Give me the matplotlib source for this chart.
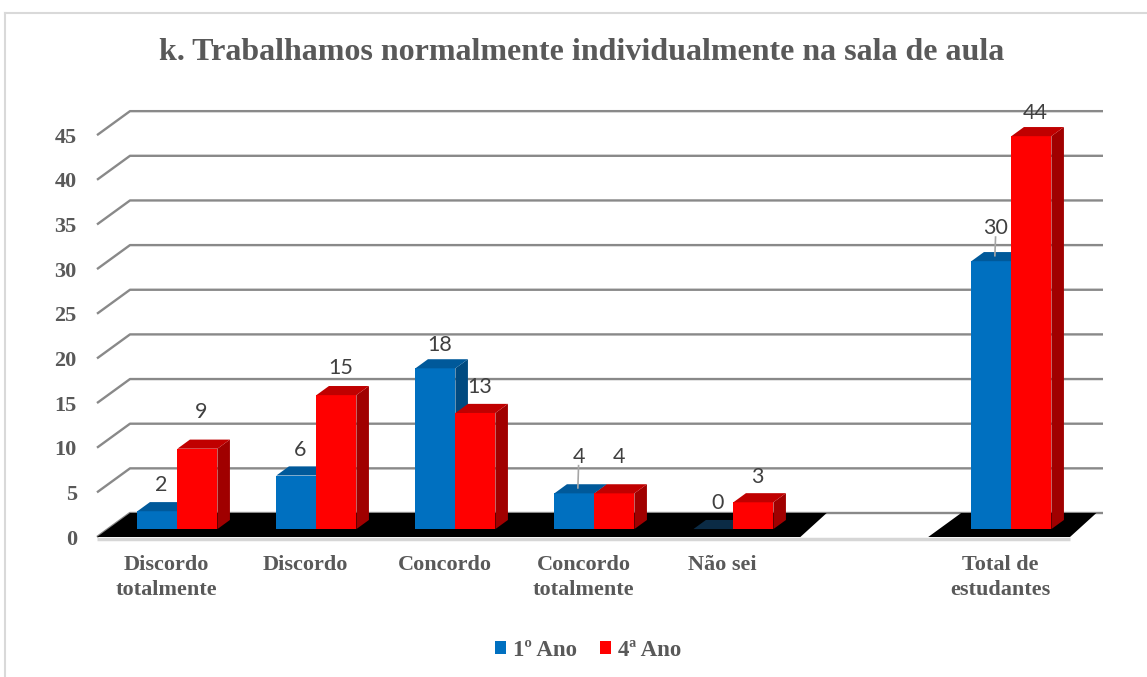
import matplotlib
matplotlib.use("Agg")
import matplotlib.pyplot as plt
from matplotlib.patches import Polygon, Patch
from matplotlib.lines import Line2D
import numpy as np

# ---------------- data ----------------
title = "k. Trabalhamos normalmente individualmente na sala de aula"
categories = ["Discordo\ntotalmente", "Discordo", "Concordo", "Concordo\ntotalmente",
              "Não sei", "", "Total de\nestudantes"]
series_names = ["1º Ano", "4ª Ano"]
ano1 = [2, 6, 18, 4, 0, None, 30]
ano4 = [9, 15, 13, 4, 3, None, 44]
yticks = [0, 5, 10, 15, 20, 25, 30, 35, 40, 45]

# label offsets above bar front-top (value units) -- style/positioning only
lab_off1 = [2.9, 2.9, 2.6, 4.1, 2.9, None, 3.7]
lab_off4 = [4.1, 3.0, 2.9, 4.1, 2.8, None, 2.6]
leader1 = [False, False, False, True, False, False, True]
leader4 = [False] * 7

# ---------------- style ----------------
W, H, DPI = 1147, 677, 100
fig = plt.figure(figsize=(W / DPI, H / DPI), dpi=DPI)
fig.patch.set_facecolor("white")

# pixel mapping of data space
PX0, PXU = 97.0, 139.0      # pixel x of x=-0.5 ; px per category
PY0, PYU = 537.0, 8.93      # pixel y of value 0 (front) ; px per unit
xlo, xhi = -0.75, 6.9
ylo, yhi = -2.0, 48.5
def px(x): return PX0 + (x + 0.5) * PXU
def py(v): return PY0 - v * PYU
ax = fig.add_axes([px(xlo) / W, (H - py(ylo)) / H,
                   (px(xhi) - px(xlo)) / W, (py(ylo) - py(yhi)) / H])
ax.set_xlim(xlo, xhi)
ax.set_ylim(ylo, yhi)
ax.axis("off")

DX = 33.0 / PXU          # full depth offset in x units
DY = 24.0 / PYU          # full depth offset in y units
f0, f1 = 0.33, 0.71      # bar depth span
bx, by = f0 * DX, f0 * DY
ddx, ddy = (f1 - f0) * DX, (f1 - f0) * DY
bw = 40.0 / PXU

grid_c = "#898989"
text_c = "#595959"
serif = "Liberation Serif"
lab_font = "Lato"

n = len(categories)
xleft, xright = -0.5, n - 0.5

# gridlines (side wall diagonal + back wall)
for t in yticks:
    ax.plot([xleft, xleft + DX, xright + DX], [t, t + DY, t + DY],
            color=grid_c, lw=1.7, zorder=1, solid_capstyle="butt", clip_on=False)
    ax.text(xleft - 0.145, t - 0.3, str(t), ha="right", va="center",
            fontsize=16, fontweight="bold", family=serif, color=text_c)

# floor front strip
ax.plot([xleft, xright], [-0.2, -0.2], color="#d6d6d6", lw=2.5, zorder=2,
        solid_capstyle="butt", clip_on=False)
# floor (skipping the empty category)
present = [i for i in range(n) if ano1[i] is not None]
segs = []
start = present[0]
prev = start
for i in present[1:]:
    if i != prev + 1:
        segs.append((start, prev))
        start = i
    prev = i
segs.append((start, prev))
for a, b in segs:
    xa = a - 0.5 if a == 0 else a - 0.52
    xb = b + 0.5 if b == n - 1 else b + 0.56
    ax.add_patch(Polygon([(xa, 0), (xb, 0), (xb + DX * 0.8, DY), (xa + DX, DY)],
                         closed=True, facecolor="black", edgecolor="none", zorder=2))

# bars
col_front = ["#0070C0", "#FF0000"]
col_top = ["#00599A", "#C00000"]
col_side = ["#004A80", "#A00000"]
zero_top = ["#0B2B45", "#5a0000"]

xs = np.arange(n)
for s, (vals, offs, leads) in enumerate([(ano1, lab_off1, leader1), (ano4, lab_off4, leader4)]):
    for i in range(n):
        v = vals[i]
        if v is None:
            continue
        z = 3 + i * 2 + s * 0.5
        xl = xs[i] + bx - bw + s * bw
        xr = xl + bw
        ax.bar(xl, v, width=bw, bottom=by, align="edge", color=col_front[s],
               edgecolor="none", zorder=z)
        if v > 0:
            ax.add_patch(Polygon([(xr, by), (xr, v + by), (xr + ddx, v + by + ddy), (xr + ddx, by + ddy)],
                                 closed=True, facecolor=col_side[s], edgecolor="none", zorder=z))
        tc = col_top[s] if v > 0 else zero_top[s]
        ax.add_patch(Polygon([(xl, v + by), (xr, v + by), (xr + ddx, v + by + ddy), (xl + ddx, v + by + ddy)],
                             closed=True, facecolor=tc, edgecolor="none", zorder=z + 0.1))
        lx = (xl + xr) / 2 + 0.03
        ly = v + by + offs[i]
        ax.text(lx, ly, str(v), ha="center", va="center", fontsize=15.5,
                family=lab_font, color="#404040", zorder=20)
        if leads[i]:
            ax.plot([lx, lx - 0.005], [ly - 1.0, v + by + ddy * 0.6], color="#a6a6a6",
                    lw=1.2, zorder=21)

# category labels
for i, c in enumerate(categories):
    ax.text(xs[i], -2.05, c, ha="center", va="top", fontsize=16, fontweight="bold",
            family=serif, color=text_c, linespacing=1.3)

# title
fig.text(582 / W, 1 - 53 / H, title, ha="center", va="center", fontsize=23,
         fontweight="bold", family=serif, color=text_c)

# legend
handles = [Patch(facecolor=col_front[k], edgecolor="none") for k in range(2)]
leg = fig.legend(handles, series_names, loc="center", bbox_to_anchor=(588 / W, 1 - 650 / H),
                 ncol=2, frameon=False, prop={"family": serif, "weight": "bold", "size": 16.5},
                 handlelength=0.5, handleheight=0.5, handletextpad=0.3, columnspacing=1.0)
for t in leg.get_texts():
    t.set_color(text_c)

# chart border
fig.add_artist(Line2D([5 / W, 5 / W], [0, 1 - 13 / H], transform=fig.transFigure,
                      color="#d9d9d9", lw=1.5))
fig.add_artist(Line2D([5 / W, 1], [1 - 13 / H, 1 - 13 / H], transform=fig.transFigure,
                      color="#d9d9d9", lw=1.5))

fig.savefig("out.png", dpi=DPI, facecolor="white")
